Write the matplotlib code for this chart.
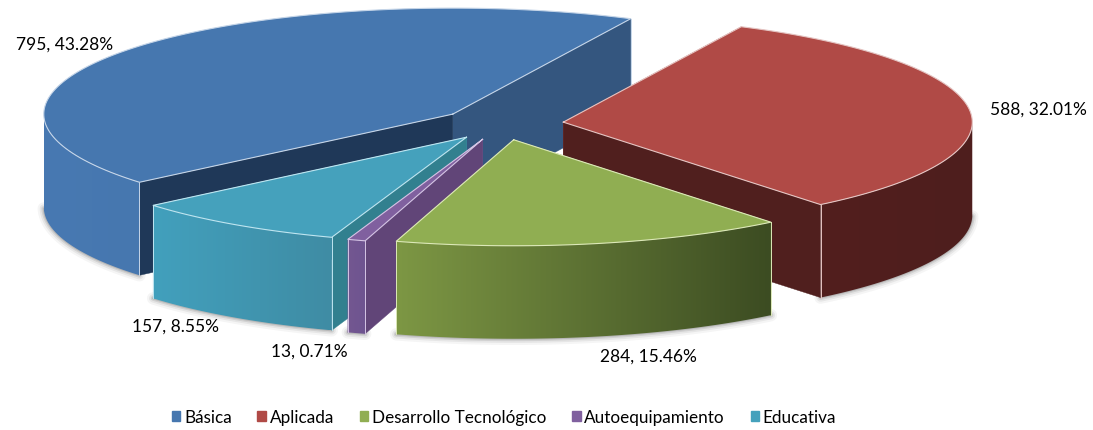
import numpy as np
from matplotlib import pyplot as plt
from matplotlib.colors import to_rgb
from matplotlib.patches import Patch, Polygon

categories = ['Básica', 'Aplicada', 'Desarrollo Tecnológico', 'Autoequipamiento', 'Educativa']
values = [795, 588, 284, 13, 157]
label_pos = [(65, 45), (1038, 110), (648, 357), (309, 352), (176, 327)]

top_colors = ['#4677AF', '#B04A46', '#90AE52', '#80609F', '#45A1BC']
wall_left = ['#4879B2', '#521F1E', '#7D9744', '#735791', '#42A0BD']
wall_right = ['#4677AF', '#4E1E1D', '#3C4C22', '#6E5490', '#3F8CA4']
start_face = ['#1F3858', '#B04A46', '#90AE52', '#614578', '#32808F']
end_face = ['#34567F', '#501F1E', '#90AE52', '#80609F', '#45A1BC']
rim_colors = ['#C5D5E8', '#E5C5C3', '#DCE8B8', '#D5C5E5', '#BFE5F0']

cx, cy = 501.7, 125
a, b = 409, 106
depth = 93
explode = 62
start_angle = 220


def ellipse(t, ox, oy):
    return ox + a * np.cos(t), oy - b * np.sin(t)


def draw_shadow(ax, xs, ys):
    for lw, alpha in [(9, 0.04), (6, 0.06), (3.5, 0.09), (1.5, 0.12)]:
        ax.plot(xs, ys, color='black', lw=lw, alpha=alpha, solid_capstyle='round', zorder=1)


def draw_wall(ax, i, wx, wy, z):
    # outer wall as a left-right gradient clipped to the wall shape
    c0 = np.array(to_rgb(wall_left[i]))
    c1 = np.array(to_rgb(wall_right[i]))
    f = np.linspace(0, 1, 256)[:, None]
    grad = (c0 + (c1 - c0) * f)[None, :, :]
    x0, x1 = wx.min(), wx.max()
    im = ax.imshow(grad, extent=(x0, x1, wy.max() + depth, wy.min()), aspect='auto',
                   interpolation='bilinear', zorder=z)
    im.set_clip_path(Polygon(np.c_[np.r_[wx, wx[::-1]], np.r_[wy, wy[::-1] + depth]], transform=ax.transData))


def draw_slice(ax, i, t0, t1, z):
    mid = (t0 + t1) / 2
    ox = cx + explode * np.cos(mid)
    oy = cy - explode * b / a * np.sin(mid)
    t = np.linspace(t0, t1, 120)
    x, y = ellipse(t, ox, oy)

    # cut faces, the one further back goes first
    faces = [(x[0], y[0], start_face[i]), (x[-1], y[-1], end_face[i])]
    faces.sort(key=lambda f: f[1])
    for fx, fy, col in faces:
        ax.fill([ox, fx, fx, ox], [oy, fy, fy + depth, oy + depth], color=col, lw=0.3, zorder=z)

    front = np.sin(t) <= 0
    if front.sum() > 1:
        draw_wall(ax, i, x[front], y[front], z)
        draw_shadow(ax, x[front], y[front] + depth)

    # top
    ax.fill(np.r_[ox, x], np.r_[oy, y], color=top_colors[i], lw=0, zorder=z + 0.1)
    ax.plot(np.r_[ox, x, ox], np.r_[oy, y, oy], color=rim_colors[i], lw=0.8, zorder=z + 0.2)

    # light corner lines
    for k in (0, -1):
        if np.sin(t[k]) <= 0.1 or i == 0:
            ax.plot([x[k], x[k]], [y[k], y[k] + depth], color=rim_colors[i], lw=0.7, zorder=z + 0.05)


fig = plt.figure(figsize=(10.93, 4.31), dpi=100)
ax = fig.add_axes([0, 0, 1, 1])

total = sum(values)
angles = [start_angle]
for v in values:
    angles.append(angles[-1] - v / total * 360)
angles = np.radians(angles)

for z, i in enumerate([0, 1, 4, 3, 2]):
    draw_slice(ax, i, angles[i], angles[i + 1], 2 + z)

ax.set_xlim(0, 1093)
ax.set_ylim(431, 0)
ax.axis('off')

for v, (lx, ly) in zip(values, label_pos):
    ax.text(lx, ly, f'{v}, {v / total * 100:.2f}%', ha='center', va='center',
            fontsize=12.5, family='Lato', color='black', zorder=20)

handles = [Patch(color=c, label=n) for c, n in zip(top_colors, categories)]
ax.legend(handles=handles, ncol=5, frameon=False, loc='center', bbox_to_anchor=(504 / 1093, 1 - 418 / 431),
          prop={'family': 'Lato', 'size': 12.3}, handlelength=0.5, handleheight=0.5,
          handletextpad=0.22, columnspacing=1.5)

fig.savefig('out.png', dpi=100)
